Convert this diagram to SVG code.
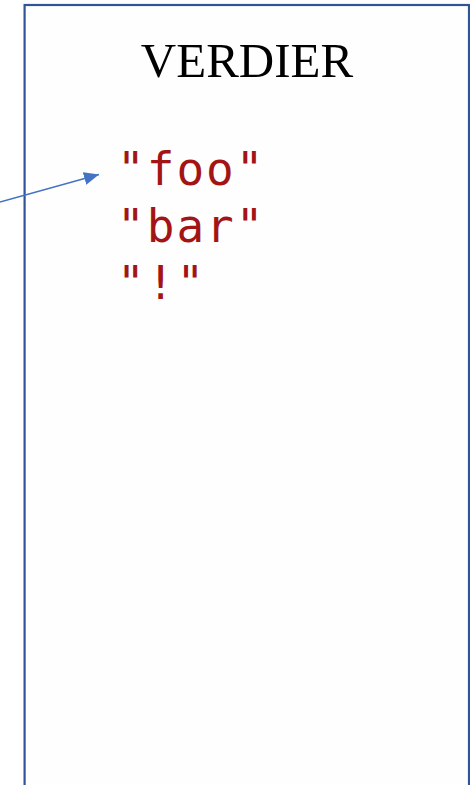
<svg xmlns="http://www.w3.org/2000/svg" width="470" height="785" viewBox="0 0 470 785">
<style>
.box{fill:#fefefe;stroke:#2f5597;stroke-width:2.2}
.title{font-family:"Liberation Serif",serif;font-size:49px;fill:#000}
.code{font-family:"DejaVu Sans Mono",monospace;font-size:46px;letter-spacing:2px;fill:#a31515}
.conn{stroke:#4472c4;stroke-width:1.5;fill:none}
</style>
<defs>
<marker id="ah" viewBox="0 0 10 10" refX="10" refY="5" markerWidth="15" markerHeight="13" markerUnits="userSpaceOnUse" orient="auto" preserveAspectRatio="none">
<path d="M0,0 L10,5 L0,10 z" fill="#4472c4"/>
</marker>
</defs>
<rect width="470" height="785" fill="#ffffff"/>
<g id="verdier">
<rect class="box" x="24.6" y="5" width="444.4" height="800"/>
<text class="title" x="247" y="77" text-anchor="middle">VERDIER</text>
<text class="code" x="117" y="185">"foo"</text>
<text class="code" x="117" y="242">"bar"</text>
<text class="code" x="117" y="299">"!"</text>
</g>
<g id="connectors">
<line class="conn" x1="0" y1="202" x2="99" y2="174.5" marker-end="url(#ah)"/>
</g>
</svg>
